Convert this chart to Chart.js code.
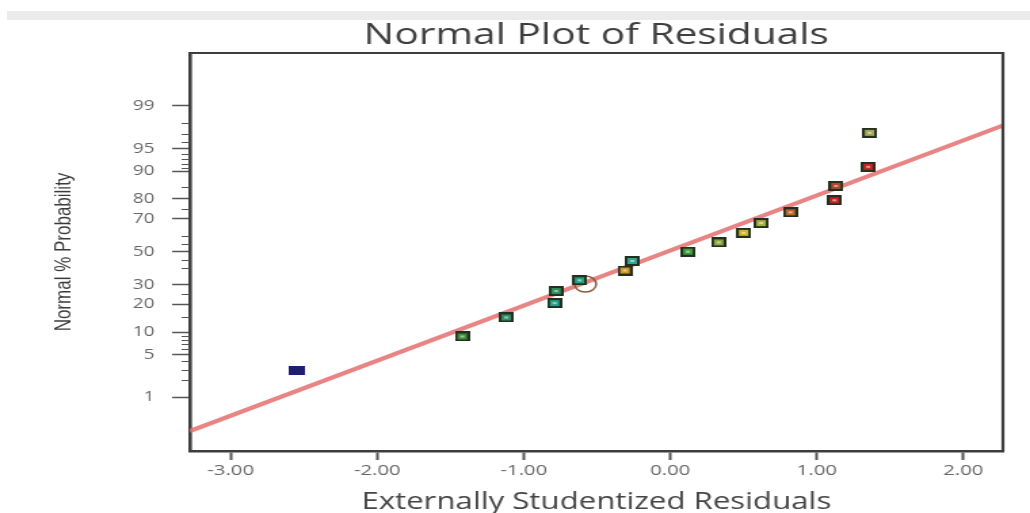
<!DOCTYPE html>
<html>
<head>
<meta charset="utf-8">
<title>Normal Plot of Residuals</title>
<script src="https://cdn.jsdelivr.net/npm/chart.js@4.4.1/dist/chart.umd.min.js"></script>
<style>
  body { margin: 0; background: #fff; }
  #wrap { position: relative; width: 1030px; height: 513px; }
  #band { position: absolute; left: 7px; right: 0; top: 11px; height: 9px; background: #ebebeb; }
</style>
</head>
<body>
<div id="wrap">
  <!-- the original screenshot is stretched sideways, so the canvas is drawn narrow and shown at full width -->
  <canvas id="chart" width="760" height="513" style="width:1030px;height:513px"></canvas>
  <div id="band"></div>
</div>
<script>
// residuals (x) and normal % probability (y) for each run, lowest first
const residuals = [-2.55, -1.42, -1.12, -0.79, -0.78, -0.62, -0.31, -0.26, 0.12, 0.33, 0.50, 0.62, 0.82, 1.12, 1.13, 1.35, 1.36];
const probabilities = [2.9, 8.8, 14.7, 20.6, 26.5, 32.4, 38.2, 44.1, 50.0, 55.9, 61.8, 67.6, 73.5, 79.4, 85.3, 91.2, 97.1];
const pointColors = ["#1c1f72", "#3c8f3a", "#2f8f6a", "#2c9c86", "#2f8e5c", "#2c9c86", "#d2962e", "#34a493",
                     "#3f9d3c", "#8fa63e", "#cdb52e", "#a3b23f", "#c2642e", "#c42424", "#b2452e", "#c42424", "#a5a552"];

// highlighted run (ring marker)
const ringX = [-0.58];
const ringP = [30.3];

// fitted normal line, end points
const fitX = [-3.28, 2.27];
const fitP = [0.21, 97.8];

// axis ticks
const xTicks = [-3, -2, -1, 0, 1, 2];
const probTicks = [1, 5, 10, 20, 30, 50, 70, 80, 90, 95, 99];
const minorProbTicks = [2, 3, 4, 6, 7, 8, 9, 15, 25, 40, 45, 55, 60, 75, 85, 91, 92, 93, 94, 96, 97, 98];

// inverse normal cdf (Acklam), used for the probability axis
function probit(p) {
  const a = [-3.969683028665376e+01, 2.209460984245205e+02, -2.759285104469687e+02, 1.383577518672690e+02, -3.066479806614716e+01, 2.506628277459239e+00];
  const b = [-5.447609879822406e+01, 1.615858368580409e+02, -1.556989798598866e+02, 6.680131188771972e+01, -1.328068155288572e+01];
  const c = [-7.784894002430293e-03, -3.223964580411365e-01, -2.400758277161838e+00, -2.549732539343734e+00, 4.374664141464968e+00, 2.938163982698783e+00];
  const d = [7.784695709041462e-03, 3.224671290700398e-01, 2.445134137142996e+00, 3.754408661907416e+00];
  const lo = 0.02425;
  if (p < lo) {
    const q = Math.sqrt(-2 * Math.log(p));
    return (((((c[0]*q+c[1])*q+c[2])*q+c[3])*q+c[4])*q+c[5]) / ((((d[0]*q+d[1])*q+d[2])*q+d[3])*q+1);
  }
  if (p > 1 - lo) {
    const q = Math.sqrt(-2 * Math.log(1 - p));
    return -(((((c[0]*q+c[1])*q+c[2])*q+c[3])*q+c[4])*q+c[5]) / ((((d[0]*q+d[1])*q+d[2])*q+d[3])*q+1);
  }
  const q = p - 0.5, r = q * q;
  return (((((a[0]*r+a[1])*r+a[2])*r+a[3])*r+a[4])*r+a[5])*q / (((((b[0]*r+b[1])*r+b[2])*r+b[3])*r+b[4])*r+1);
}

// small square markers with a dark rim, like the design software draws them
function makeMarker(fill, solid) {
  const c = document.createElement("canvas");
  c.width = solid ? 12 : 11;
  c.height = solid ? 9 : 10;
  const g = c.getContext("2d");
  if (solid) {
    g.fillStyle = fill;
    g.fillRect(0, 0, c.width, c.height);
    return c;
  }
  g.fillStyle = "#23301f";
  g.fillRect(0, 0, 11, 10);
  g.fillStyle = fill;
  g.fillRect(2, 2, 7, 6);
  g.fillStyle = "rgba(255,255,255,0.5)";
  g.fillRect(4, 4, 3, 2);
  return c;
}

const points = residuals.map((x, i) => ({ x: x, y: probit(probabilities[i] / 100) }));
const markers = pointColors.map((col, i) => makeMarker(col, i === 0));

// top/right frame and the minor ticks on the probability axis
const framePlugin = {
  id: "frame",
  afterDraw(chart) {
    const { ctx, chartArea: a, scales } = chart;
    ctx.save();
    ctx.strokeStyle = "#3d3d3d";
    ctx.lineWidth = 2.2;
    ctx.beginPath();
    ctx.moveTo(a.left, a.top);
    ctx.lineTo(a.right, a.top);
    ctx.lineTo(a.right, a.bottom);
    ctx.stroke();

    ctx.strokeStyle = "#555";
    ctx.lineWidth = 1;
    minorProbTicks.forEach(p => {
      const y = Math.round(scales.y.getPixelForValue(probit(p / 100))) + 0.5;
      ctx.beginPath();
      ctx.moveTo(a.left - 6, y);
      ctx.lineTo(a.left, y);
      ctx.stroke();
    });
    ctx.restore();
  }
};

new Chart(document.getElementById("chart"), {
  type: "scatter",
  data: {
    datasets: [
      {
        label: "Residuals",
        data: points,
        pointStyle: markers,
        pointRadius: 6,
        pointHoverRadius: 6
      },
      {
        label: "Highlighted",
        data: ringX.map((x, i) => ({ x: x, y: probit(ringP[i] / 100) })),
        pointStyle: "circle",
        pointRadius: 8,
        backgroundColor: "rgba(0,0,0,0)",
        borderColor: "#8c5a3c",
        borderWidth: 1.5
      },
      {
        label: "Normal line",
        data: fitX.map((x, i) => ({ x: x, y: probit(fitP[i] / 100) })),
        showLine: true,
        borderColor: "rgba(229, 110, 110, 0.85)",
        borderWidth: 4,
        pointRadius: 0
      }
    ]
  },
  options: {
    responsive: false,
    animation: false,
    devicePixelRatio: 1,
    layout: { padding: { left: 0, right: 20, top: 0, bottom: 0 } },
    plugins: {
      legend: { display: false },
      tooltip: { enabled: false },
      title: {
        display: true,
        text: "Normal Plot of Residuals",
        fullSize: false,
        color: "#3f3f3f",
        font: { family: "'Open Sans', sans-serif", size: 30, weight: "normal" },
        padding: { top: 17, bottom: 0 }
      }
    },
    scales: {
      x: {
        type: "linear",
        min: -3.28,
        max: 2.27,
        afterBuildTicks: s => { s.ticks = xTicks.map(v => ({ value: v })); },
        afterFit: s => { s.height = 62; },
        ticks: {
          color: "#666",
          font: { family: "'Open Sans', sans-serif", size: 15 },
          padding: 2,
          maxRotation: 0,
          callback: v => v.toFixed(2)
        },
        grid: { drawOnChartArea: false, tickLength: 9, tickWidth: 2, tickColor: "#555" },
        border: { display: true, color: "#3d3d3d", width: 2.6 },
        title: {
          display: true,
          text: "Externally Studentized Residuals",
          color: "#454545",
          font: { family: "'Open Sans', sans-serif", size: 23 },
          padding: { top: 0, bottom: -3 }
        }
      },
      y: {
        type: "linear",
        min: -3.18,
        max: 3.17,
        afterBuildTicks: s => { s.ticks = probTicks.map(p => ({ value: probit(p / 100) })); },
        afterFit: s => { s.width = 140; },
        ticks: {
          color: "#666",
          font: { family: "'Open Sans', sans-serif", size: 14 },
          padding: 13,
          callback: (v, i) => probTicks[i]
        },
        grid: { drawOnChartArea: false, tickLength: 13, tickWidth: 1.5, tickColor: "#555" },
        border: { display: true, color: "#3d3d3d", width: 2.6 },
        title: {
          display: true,
          text: "Normal % Probability",
          color: "#3a3a3a",
          font: { family: "'Liberation Sans Narrow', 'Arial Narrow', 'Liberation Sans', sans-serif", size: 17 },
          padding: { top: 37, bottom: 0 }
        }
      }
    }
  },
  plugins: [framePlugin]
});
</script>
</body>
</html>
